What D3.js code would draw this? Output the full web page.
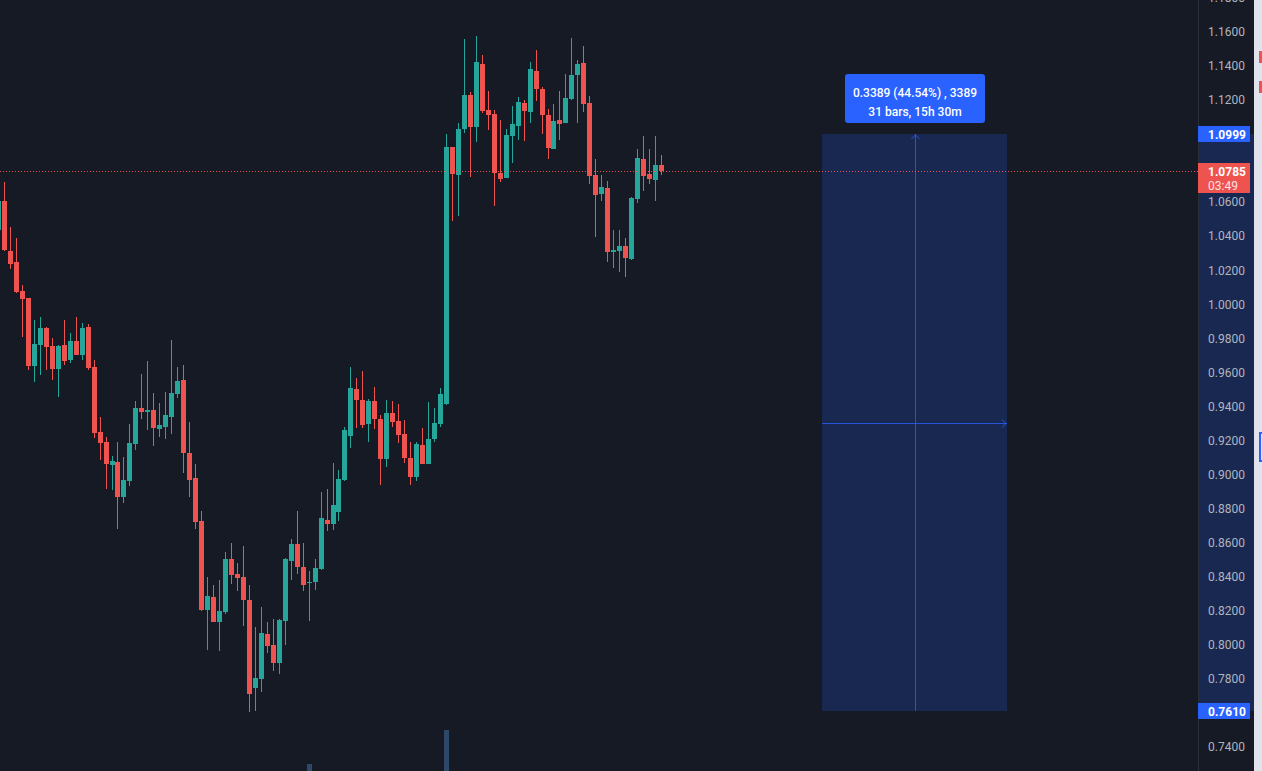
<!DOCTYPE html>
<meta charset="utf-8">
<style>
body { margin: 0; background: #161a25; overflow: hidden; }
svg { display: block; font-family: Roboto, "Liberation Sans", sans-serif; }
.tick-label { fill: #b2b5be; font-size: 12px; }
</style>
<svg width="1262" height="771"></svg>
<script src="https://d3js.org/d3.v7.min.js"></script>
<script>
// candles, oldest first (index 0 is the half-hidden one at the left edge)
var opens = [1.0437, 1.0607, 1.0314, 1.0249, 1.0079, 1.0038, 0.9638, 0.9761, 0.9861, 0.9756,
  0.9620, 0.9761, 0.9673, 0.9785, 0.9703, 0.9867, 0.9632, 0.9250, 0.9192, 0.9057,
  0.9074, 0.8869, 0.8963, 0.9180, 0.9391, 0.9368, 0.9380, 0.9268, 0.9280, 0.9339,
  0.9474, 0.9556, 0.9127, 0.8980, 0.8728, 0.8205, 0.8281, 0.8134, 0.8193, 0.8505,
  0.8416, 0.8399, 0.8264, 0.7747, 0.7800, 0.8064, 0.7999, 0.7894, 0.8140, 0.8493,
  0.8592, 0.8457, 0.8363, 0.8369, 0.8446, 0.8734, 0.8710, 0.8781, 0.8969, 0.9227,
  0.9503, 0.9438, 0.9297, 0.9433, 0.9327, 0.9092, 0.9362, 0.9315, 0.9239, 0.9098,
  0.8986, 0.9174, 0.9062, 0.9209, 0.9297, 0.9415, 1.0925, 1.0760, 1.1030, 1.1230,
  1.1042, 1.1412, 1.1142, 1.1118, 1.0772, 1.0742, 1.0989, 1.1048, 1.1183, 1.1130,
  1.1371, 1.1265, 1.1112, 1.0913, 1.1083, 1.1065, 1.1206, 1.1347, 1.1418, 1.1183,
  1.0760, 1.0648, 1.0684, 1.0308, 1.0314, 1.0343, 1.0267, 1.0619, 1.0854, 1.0766,
  1.0731, 1.0819];
var highs = [1.0643, 1.0719, 1.0455, 1.0390, 1.0114, 1.0038, 0.9908, 0.9926, 0.9867, 0.9803,
  0.9761, 0.9908, 0.9832, 0.9926, 0.9891, 0.9885, 0.9673, 0.9339, 0.9221, 0.9110,
  0.9192, 0.9104, 0.9297, 0.9433, 0.9591, 0.9667, 0.9480, 0.9421, 0.9485, 0.9791,
  0.9632, 0.9644, 0.9309, 0.9062, 0.8786, 0.8399, 0.8352, 0.8381, 0.8546, 0.8598,
  0.8481, 0.8581, 0.8352, 0.8105, 0.8223, 0.8134, 0.8152, 0.8152, 0.8510, 0.8622,
  0.8786, 0.8598, 0.8434, 0.8505, 0.8898, 0.8916, 0.9068, 0.9027, 0.9280, 0.9632,
  0.9568, 0.9609, 0.9444, 0.9515, 0.9350, 0.9438, 0.9433, 0.9415, 0.9321, 0.9192,
  0.9192, 0.9274, 0.9427, 0.9391, 0.9509, 1.1001, 1.0925, 1.1065, 1.1559, 1.1248,
  1.1577, 1.1465, 1.1253, 1.1142, 1.1083, 1.1030, 1.1165, 1.1218, 1.1201, 1.1424,
  1.1494, 1.1277, 1.1148, 1.1177, 1.1253, 1.1353, 1.1565, 1.1436, 1.1518, 1.1224,
  1.0854, 1.0760, 1.0725, 1.0437, 1.0437, 1.0390, 1.0631, 1.0913, 1.0989, 1.0913,
  1.0989, 1.0878];
var lows = [1.0425, 1.0314, 1.0208, 1.0067, 0.9810, 0.9615, 0.9544, 0.9585, 0.9615, 0.9556,
  0.9456, 0.9644, 0.9656, 0.9703, 0.9673, 0.9615, 0.9215, 0.9086, 0.8916, 0.8910,
  0.8681, 0.8833, 0.8933, 0.9145, 0.9327, 0.9262, 0.9168, 0.9221, 0.9209, 0.9239,
  0.9450, 0.9010, 0.8869, 0.8681, 0.8199, 0.7970, 0.8134, 0.7964, 0.8181, 0.8358,
  0.8316, 0.8111, 0.7606, 0.7612, 0.7723, 0.7952, 0.7847, 0.7829, 0.7999, 0.8381,
  0.8416, 0.8316, 0.8140, 0.8322, 0.8440, 0.8669, 0.8675, 0.8728, 0.8963, 0.9156,
  0.9274, 0.9274, 0.9192, 0.9268, 0.8939, 0.9045, 0.9280, 0.9186, 0.9068, 0.8939,
  0.8963, 0.9062, 0.9062, 0.9192, 0.9280, 0.9409, 1.0490, 1.0519, 1.1007, 1.0748,
  1.0954, 1.1124, 1.1024, 1.0578, 1.0719, 1.0742, 1.0831, 1.0966, 1.0960, 1.1065,
  1.1195, 1.1001, 1.0854, 1.0913, 1.0966, 1.1065, 1.1201, 1.1065, 1.1130, 1.0707,
  1.0396, 1.0607, 1.0249, 1.0214, 1.0190, 1.0161, 1.0261, 1.0596, 1.0666, 1.0707,
  1.0607, 1.0760];
var closes = [1.0607, 1.0320, 1.0237, 1.0073, 1.0032, 0.9638, 0.9767, 0.9861, 0.9750, 0.9620,
  0.9756, 0.9667, 0.9785, 0.9703, 0.9861, 0.9626, 0.9245, 0.9186, 0.9062, 0.9080,
  0.8869, 0.8969, 0.9186, 0.9391, 0.9368, 0.9380, 0.9274, 0.9292, 0.9350, 0.9480,
  0.9550, 0.9127, 0.8969, 0.8722, 0.8205, 0.8287, 0.8134, 0.8199, 0.8505, 0.8410,
  0.8393, 0.8264, 0.7712, 0.7806, 0.8070, 0.7993, 0.7894, 0.8146, 0.8505, 0.8592,
  0.8457, 0.8352, 0.8369, 0.8451, 0.8745, 0.8710, 0.8822, 0.8974, 0.9262, 0.9509,
  0.9438, 0.9292, 0.9433, 0.9327, 0.9092, 0.9362, 0.9309, 0.9233, 0.9098, 0.8986,
  0.9180, 0.9062, 0.9209, 0.9303, 0.9474, 1.0925, 1.0766, 1.1030, 1.1230, 1.1042,
  1.1424, 1.1136, 1.1112, 1.0772, 1.0737, 1.0995, 1.1060, 1.1189, 1.1136, 1.1383,
  1.1265, 1.1112, 1.0919, 1.1077, 1.1060, 1.1212, 1.1347, 1.1412, 1.1177, 1.0754,
  1.0643, 1.0690, 1.0308, 1.0320, 1.0343, 1.0273, 1.0625, 1.0860, 1.0754, 1.0737,
  1.0819, 1.0785];

// only two volume columns reach into view
var volIndex = [52, 75];
var volValue = [1.18, 2.3];

// price axis ticks
var tickValues = [0.74, 0.76, 0.78, 0.80, 0.82, 0.84, 0.86, 0.88, 0.90, 0.92, 0.94,
  0.96, 0.98, 1.00, 1.02, 1.04, 1.06, 1.08, 1.10, 1.12, 1.14, 1.16, 1.18];

// measure tool: from bar 138 to bar 169, price 0.7610 -> 1.0999
var measureBars = [138, 169];
var measurePrices = [0.7610, 1.0999];
var measureText = ["0.3389 (44.54%) , 3389", "31 bars, 15h 30m"];
var lastPrice = 1.0785, countdown = "03:49";

var upColor = "#26a69a", downColor = "#ef5350", blue = "#2962ff";

var svg = d3.select("svg"),
    width = +svg.attr("width"),
    height = +svg.attr("height"),
    axisLeft = 1198;

var x = d3.scaleLinear().domain([1, 111]).range([4.5, 661.5]),
    y = d3.scaleLinear().domain([0.74, 1.16]).range([747, 32]),
    yVol = d3.scaleLinear().domain([0, 2.3]).range([800, 730]);

svg.append("rect").attr("width", width).attr("height", height).attr("fill", "#161a25");

var plot = svg.append("g").attr("shape-rendering", "crispEdges");

// volume
plot.selectAll(".vol")
  .data(volIndex)
  .enter().append("rect")
    .attr("x", function(d) { return Math.round(x(d) - 2.5); })
    .attr("y", function(d, i) { return Math.round(yVol(volValue[i])); })
    .attr("width", 5)
    .attr("height", function(d, i) { return 800 - Math.round(yVol(volValue[i])); })
    .attr("fill", "#2e4868");

// measure box
var mx0 = Math.round(x(measureBars[0])) - 1, mx1 = Math.round(x(measureBars[1])) - 1,
    my0 = Math.round(y(measurePrices[1])), my1 = Math.round(y(measurePrices[0])),
    mxc = Math.round((mx0 + mx1) / 2), myc = Math.round((my0 + my1) / 2);
plot.append("rect")
    .attr("x", mx0).attr("y", my0)
    .attr("width", mx1 - mx0).attr("height", my1 - my0)
    .attr("fill", blue).attr("fill-opacity", 0.2);
plot.append("line")
    .attr("x1", mxc + 0.5).attr("x2", mxc + 0.5)
    .attr("y1", my1).attr("y2", my0)
    .attr("stroke", blue).attr("stroke-opacity", 0.75);
plot.append("line")
    .attr("x1", mx0).attr("x2", mx1)
    .attr("y1", myc + 0.5).attr("y2", myc + 0.5)
    .attr("stroke", blue).attr("stroke-opacity", 0.75);
svg.append("path")
    .attr("d", "M" + (mxc + 0.5 - 4) + "," + (my0 + 5) + "L" + (mxc + 0.5) + "," + (my0 + 1) + "L" + (mxc + 0.5 + 4) + "," + (my0 + 5))
    .attr("fill", "none").attr("stroke", blue).attr("stroke-opacity", 0.85);
svg.append("path")
    .attr("d", "M" + (mx1 - 5) + "," + (myc + 0.5 - 4) + "L" + (mx1 - 1) + "," + (myc + 0.5) + "L" + (mx1 - 5) + "," + (myc + 0.5 + 4))
    .attr("fill", "none").attr("stroke", blue).attr("stroke-opacity", 0.85);

// last price line
svg.append("line")
    .attr("x1", 0).attr("x2", axisLeft)
    .attr("y1", Math.round(y(lastPrice)) + 0.5).attr("y2", Math.round(y(lastPrice)) + 0.5)
    .attr("stroke", downColor).attr("stroke-dasharray", "1,2");

// candles
var candles = plot.selectAll(".candle")
  .data(opens.map(function(o, i) { return {i: i, o: o, h: highs[i], l: lows[i], c: closes[i]}; }))
  .enter().append("g")
    .attr("class", "candle")
    .attr("fill", function(d) { return d.c >= d.o ? upColor : downColor; });
candles.append("rect")
    .attr("x", function(d) { return Math.round(x(d.i) - 2.5) + 2; })
    .attr("y", function(d) { return Math.round(y(d.h)); })
    .attr("width", 1)
    .attr("height", function(d) { return Math.max(1, Math.round(y(d.l)) - Math.round(y(d.h))); });
candles.append("rect")
    .attr("x", function(d) { return Math.round(x(d.i) - 2.5); })
    .attr("y", function(d) { return Math.round(y(Math.max(d.o, d.c))); })
    .attr("width", 5)
    .attr("height", function(d) { return Math.max(1, Math.round(y(Math.min(d.o, d.c))) - Math.round(y(Math.max(d.o, d.c)))); });

// measure label
var tip = svg.append("g");
tip.append("rect")
    .attr("x", mxc - 70).attr("y", my0 - 60)
    .attr("width", 140).attr("height", 49)
    .attr("rx", 3).attr("fill", blue);
tip.selectAll("text")
  .data(measureText)
  .enter().append("text")
    .attr("x", mxc)
    .attr("y", function(d, i) { return my0 - 41 + i * 19; })
    .attr("text-anchor", "middle")
    .attr("dy", "0.35em")
    .attr("fill", "#fff")
    .attr("font-size", "12px")
    .attr("font-weight", 500)
    .text(function(d) { return d; });

// price axis
var axis = svg.append("g");
axis.append("rect").attr("x", axisLeft).attr("width", width - axisLeft).attr("height", height).attr("fill", "#161a25");
axis.append("rect")
    .attr("x", axisLeft).attr("y", my0)
    .attr("width", 56).attr("height", my1 - my0)
    .attr("fill", blue).attr("fill-opacity", 0.2);
axis.append("line")
    .attr("x1", axisLeft + 0.5).attr("x2", axisLeft + 0.5)
    .attr("y1", 0).attr("y2", height)
    .attr("stroke", "#2a2e39");

// tick labels that sit under a price tag are not shown
var tagPrices = [measurePrices[1], measurePrices[0], lastPrice];
axis.selectAll(".tick-label")
  .data(tickValues.filter(function(t) {
    return tagPrices.every(function(p) { return Math.abs(y(t) - y(p)) > 12; });
  }))
  .enter().append("text")
    .attr("class", "tick-label")
    .attr("x", axisLeft + 10)
    .attr("y", function(d) { return y(d); })
    .attr("dy", "0.35em")
    .text(d3.format(".4f"));

function priceTag(v, color, top, h) {
  axis.append("rect")
      .attr("x", axisLeft).attr("y", top)
      .attr("width", 52).attr("height", h)
      .attr("fill", color);
  axis.append("text")
      .attr("x", axisLeft + 10).attr("y", Math.round(y(v)) + 1)
      .attr("dy", "0.35em")
      .attr("fill", "#fff").attr("font-size", "12px").attr("font-weight", "bold")
      .text(d3.format(".4f")(v));
}
priceTag(measurePrices[1], blue, my0 - 8, 16);
priceTag(measurePrices[0], blue, my1 - 8, 16);
priceTag(lastPrice, downColor, Math.round(y(lastPrice)) - 8, 30);
axis.append("text")
    .attr("x", axisLeft + 10).attr("y", Math.round(y(lastPrice)) + 15)
    .attr("dy", "0.35em")
    .attr("fill", "#fff").attr("fill-opacity", 0.85).attr("font-size", "12px")
    .text(countdown);

// edge of the next panel
svg.append("rect").attr("x", 1254).attr("width", 8).attr("height", height).attr("fill", "#e0e3eb");
svg.append("rect").attr("x", 1259).attr("y", 51).attr("width", 3).attr("height", 12).attr("fill", downColor);
svg.append("rect").attr("x", 1259).attr("y", 81).attr("width", 3).attr("height", 12).attr("fill", downColor);
svg.append("rect").attr("x", 1260).attr("y", 433).attr("width", 4).attr("height", 28)
    .attr("fill", "none").attr("stroke", blue).attr("stroke-width", 2);
</script>
